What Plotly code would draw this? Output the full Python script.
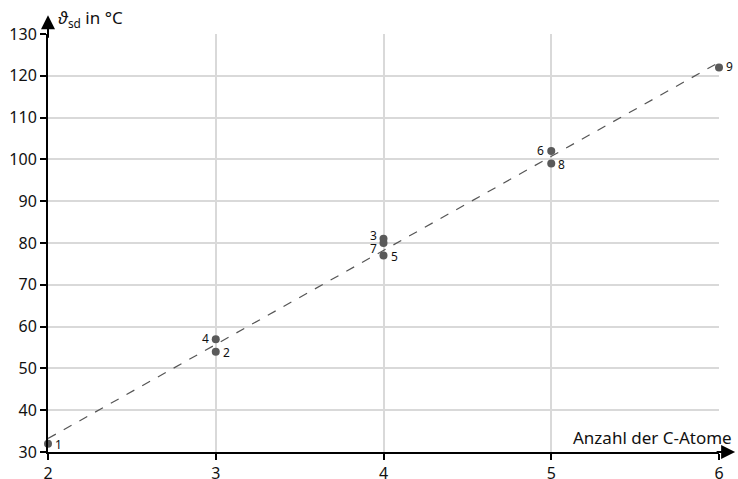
import numpy as np
import plotly.graph_objects as go

# Data
atoms = [2, 3, 3, 4, 4, 4, 5, 5, 6]
temps = [32, 54, 57, 81, 80, 77, 102, 99, 122]
labels = ["1", "2", "4", "3", "7", "5", "6", "8", "9"]
x_ticks = [2, 3, 4, 5, 6]
y_ticks = [30, 40, 50, 60, 70, 80, 90, 100, 110, 120, 130]

# label placement (style): side and vertical shift in px
label_side = ["right", "right", "left", "left", "left", "right", "left", "right", "right"]
label_dy = [-1, -1, 1, 3, -5, -1, 1, -1, 1]

# Regression line through the data
slope, intercept = np.polyfit(atoms, temps, 1)
fit_x = [min(atoms), max(atoms)]
fit_y = [slope * v + intercept for v in fit_x]

FONT = "Noto Sans"

fig = go.Figure()
fig.add_trace(go.Scatter(
    x=fit_x, y=fit_y, mode="lines",
    line=dict(color="#555555", width=1.2, dash="dash"),
    hoverinfo="skip", showlegend=False, cliponaxis=False))
fig.add_trace(go.Scatter(
    x=atoms, y=temps, mode="markers",
    marker=dict(color="#5a5a5a", size=8),
    showlegend=False, cliponaxis=False))

for xv, yv, lab, side, dy in zip(atoms, temps, labels, label_side, label_dy):
    fig.add_annotation(x=xv, y=yv, text=lab, showarrow=False,
                       xanchor="left" if side == "right" else "right",
                       xshift=5 if side == "right" else -5, yshift=dy,
                       font=dict(family=FONT, size=12, color="#111111"))

fig.update_layout(
    width=738, height=479,
    margin=dict(l=48, r=19, t=34, b=27, autoexpand=False),
    plot_bgcolor="white", paper_bgcolor="white",
    font=dict(family=FONT, size=15, color="#111111"),
    xaxis=dict(range=[2, 6], tickvals=x_ticks, showgrid=True, gridcolor="#d9d9d9",
               gridwidth=1.5, zeroline=False, showline=True, linecolor="black", linewidth=2,
               ticks="outside", ticklen=6, tickwidth=1.5, tickcolor="black",
               tickfont=dict(size=16), automargin=False),
    yaxis=dict(range=[30, 130], tickvals=y_ticks, showgrid=True, gridcolor="#d9d9d9",
               gridwidth=1.5, zeroline=False, showline=True, linecolor="black", linewidth=2,
               ticks="outside", ticklen=6, tickwidth=1.5, tickcolor="black",
               tickfont=dict(size=16), automargin=False),
)

# axis arrows
fig.add_annotation(x=0, y=1.045, xref="paper", yref="paper", ax=0, ay=24, text="",
                   showarrow=True, arrowhead=2, arrowsize=1.4, arrowwidth=2, arrowcolor="black")
fig.add_annotation(x=1.024, y=0, xref="paper", yref="paper", ax=-20, ay=0, text="",
                   showarrow=True, arrowhead=2, arrowsize=1.4, arrowwidth=2, arrowcolor="black")

# axis titles
fig.add_annotation(x=0, y=1.0, xref="paper", yref="paper", xanchor="left", yanchor="bottom",
                   xshift=8, yshift=1, showarrow=False,
                   text="<i>ϑ</i><sub>sd</sub> in °C", font=dict(family=FONT, size=17))
fig.add_annotation(x=1.0, y=0, xref="paper", yref="paper", xanchor="right", yanchor="bottom",
                   xshift=15, yshift=1, showarrow=False,
                   text="Anzahl der C-Atome", font=dict(family=FONT, size=17))

fig.write_html("out.html", config={"displayModeBar": False},
               post_script="document.body.style.margin='0';document.body.style.overflow='hidden';")
